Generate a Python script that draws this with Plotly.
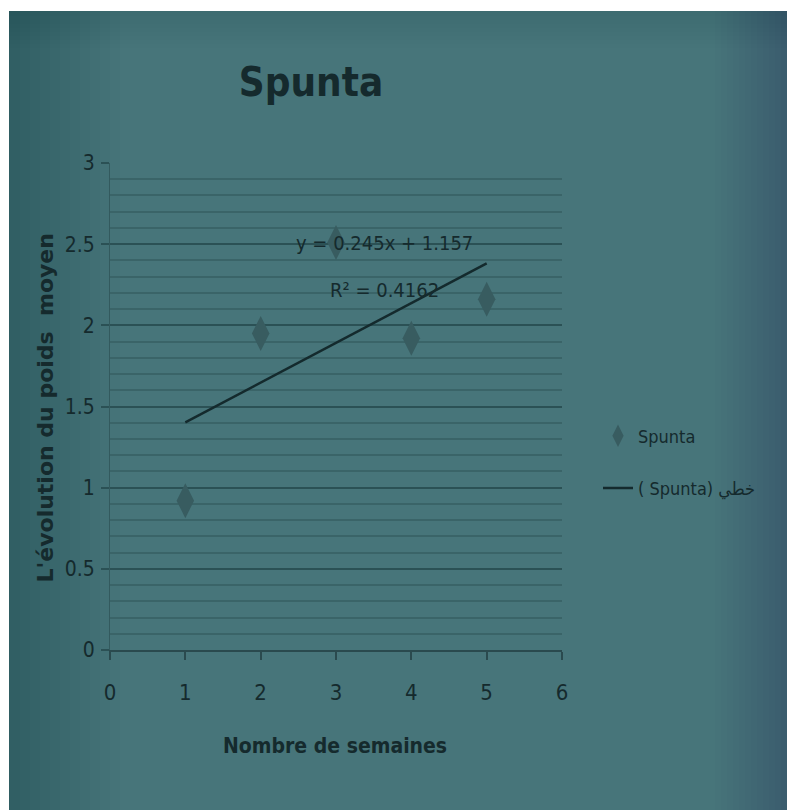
import plotly.graph_objects as go

# Weekly mean weight of the Spunta variety
weeks = [1, 2, 3, 4, 5]
mean_weight = [0.92, 1.95, 2.51, 1.92, 2.16]

# Linear trend reported on the chart
slope = 0.245
intercept = 1.157
r_squared = 0.4162

x_ticks = [0, 1, 2, 3, 4, 5, 6]
y_ticks = [0, 0.5, 1, 1.5, 2, 2.5, 3]

W, H = 787, 810
L, R, T, B = 110, 225, 163, 160
PW, PH = W - L - R, H - T - B

NARROW = "Liberation Sans Narrow, DejaVu Sans Condensed, Arial Narrow, sans-serif"
INK = "#152a2d"


def px(xp):
    return (xp - L) / PW


def py(yp):
    return (H - B - yp) / PH


trend_x = [min(weeks), max(weeks)]
trend_y = [slope * v + intercept for v in trend_x]

fig = go.Figure()
fig.add_trace(go.Scatter(
    x=weeks, y=mean_weight, mode="markers", name="Spunta",
    marker=dict(symbol="diamond-tall", size=25, color="#385c60",
                line=dict(width=0)),
    legendgroup="a",
))
fig.add_trace(go.Scatter(
    x=trend_x, y=trend_y, mode="lines", name="( Spunta) خطي",
    line=dict(color="#142a2d", width=2.5),
    legendgroup="b",
))

shapes = []
# soft darkening towards the edges of the screen
steps = 12
for i in range(1, steps + 1):
    a = 0.022
    w = 10 * i
    col = f"rgba(20,40,44,{a})"
    shapes.append(dict(type="rect", xref="paper", yref="paper", layer="below",
                       x0=px(0), x1=px(w), y0=py(H), y1=py(0),
                       fillcolor=col, line=dict(width=0)))
    shapes.append(dict(type="rect", xref="paper", yref="paper", layer="below",
                       x0=px(W - w * 0.6), x1=px(W), y0=py(H), y1=py(0),
                       fillcolor=f"rgba(20,40,44,{a * 0.45})", line=dict(width=0)))
    shapes.append(dict(type="rect", xref="paper", yref="paper", layer="below",
                       x0=px(0), x1=px(W), y0=py(w * 0.4), y1=py(0),
                       fillcolor=f"rgba(20,40,44,{a * 0.4})", line=dict(width=0)))
# white page border on top and left
shapes.append(dict(type="rect", xref="paper", yref="paper", layer="above",
                   x0=px(0), x1=px(W), y0=py(11), y1=py(0),
                   fillcolor="white", line=dict(width=0)))
shapes.append(dict(type="rect", xref="paper", yref="paper", layer="above",
                   x0=px(0), x1=px(9), y0=py(H), y1=py(0),
                   fillcolor="white", line=dict(width=0)))

annotations = [
    dict(x=3.65, y=2.51, xref="x", yref="y", showarrow=False,
         text=f"y = {slope}x + {intercept}",
         font=dict(family=NARROW, size=20, color=INK)),
    dict(x=3.65, y=2.22, xref="x", yref="y", showarrow=False,
         text=f"R² = {r_squared}",
         font=dict(family=NARROW, size=20, color=INK)),
    dict(x=px(30), y=py(408), xref="paper", yref="paper", showarrow=False,
         text="L'évolution du poids  moyen", textangle=-90,
         font=dict(family="DejaVu Sans, Verdana, sans-serif", size=22,
                   color=INK, weight="bold")),
    dict(x=px(335), y=py(760), xref="paper", yref="paper", showarrow=False,
         text="Nombre de semaines",
         font=dict(family=NARROW, size=21, color=INK, weight="bold")),
]

fig.update_layout(
    width=W, height=H,
    margin=dict(l=L, r=R, t=T, b=B),
    paper_bgcolor="#47757a",
    plot_bgcolor="rgba(0,0,0,0)",
    title=dict(text="Spunta", x=px(311), xanchor="center", xref="paper",
               y=1 - 82 / H, yanchor="middle", yref="container",
               font=dict(family=NARROW, size=40, color=INK, weight="bold")),
    xaxis=dict(range=[0, 6], tickvals=x_ticks, showgrid=False, zeroline=False,
               showline=True, linecolor="#2a4a4e", linewidth=2,
               ticks="outside", ticklen=8, tickwidth=2, tickcolor="#2a4a4e",
               tickfont=dict(family=NARROW, size=22, color=INK),
               ticklabelstandoff=14),
    yaxis=dict(range=[0, 3], tickvals=y_ticks, zeroline=False,
               showgrid=True, gridcolor="#2b5155", gridwidth=2,
               showline=True, linecolor="#335a5e", linewidth=1,
               ticks="outside", ticklen=8, tickwidth=2, tickcolor="#2b5155",
               tickfont=dict(family=NARROW, size=21, color=INK),
               ticklabelstandoff=2,
               minor=dict(dtick=0.1, showgrid=True, gridcolor="#3a6468",
                          gridwidth=1.5)),
    legend=dict(x=px(598), y=py(462), xanchor="left", yanchor="middle",
                xref="paper", yref="paper", bgcolor="rgba(0,0,0,0)",
                traceorder="grouped", tracegroupgap=26,
                font=dict(family=NARROW, size=18, color=INK)),
    shapes=shapes,
    annotations=annotations,
)

fig.write_html("out.html")
